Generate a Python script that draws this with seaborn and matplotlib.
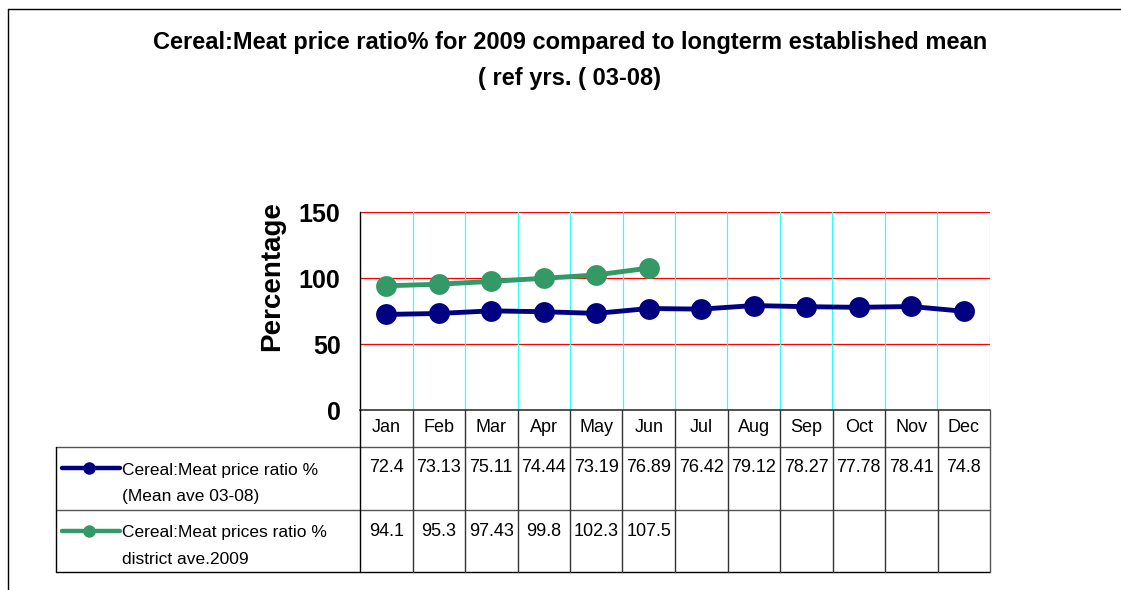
import numpy as np
import pandas as pd
import matplotlib
matplotlib.use("Agg")
import matplotlib.pyplot as plt
from matplotlib.lines import Line2D
import seaborn as sns

months = ['Jan', 'Feb', 'Mar', 'Apr', 'May', 'Jun', 'Jul', 'Aug', 'Sep', 'Oct', 'Nov', 'Dec']
mean_ratio = [72.4, 73.13, 75.11, 74.44, 73.19, 76.89, 76.42, 79.12, 78.27, 77.78, 78.41, 74.8]
district_ratio = [94.1, 95.3, 97.43, 99.8, 102.3, 107.5]
mean_label = ['Cereal:Meat price ratio %', '(Mean ave 03-08)']
district_label = ['Cereal:Meat prices ratio %', 'district ave.2009']
series_colors = {'mean': '#000080', 'district': '#339966'}

W, H = 1121, 590

sns.set_style("white")
plt.rcParams['font.family'] = ['Liberation Sans', 'DejaVu Sans']
plt.rcParams['text.color'] = 'black'
plt.rcParams['axes.labelcolor'] = 'black'
plt.rcParams['ytick.labelcolor'] = 'black'

df = pd.concat([
    pd.DataFrame({'pos': range(len(mean_ratio)), 'value': mean_ratio, 'series': 'mean'}),
    pd.DataFrame({'pos': range(len(district_ratio)), 'value': district_ratio, 'series': 'district'}),
])


def fx(x):
    return x / W


def fy(y):
    return 1 - y / H


fig = plt.figure(figsize=(W / 100, H / 100), dpi=100)
fig.patch.set_facecolor('white')

# plot area in pixel coordinates
px0, px1, py0, py1 = 360, 990, 212, 410
ax = fig.add_axes([fx(px0), fy(py1), fx(px1) - fx(px0), fy(py0) - fy(py1)])

sns.lineplot(data=df, x='pos', y='value', hue='series', palette=series_colors,
             marker='o', markersize=15, markeredgewidth=0, linewidth=3.5,
             legend=False, ax=ax, zorder=3)

ax.set_xlim(-0.5, len(months) - 0.5)
ax.set_ylim(0, 150)
ax.set_yticks([0, 50, 100, 150])
ax.set_yticklabels(['0', '50', '100', '150'], fontsize=18, fontweight='bold', color='black')
ax.set_xticks([])
ax.set_xlabel('')
ax.set_ylabel('')
ax.tick_params(axis='y', direction='out', length=8, width=1, color='#555555', pad=6)

for v in [50, 100, 150]:
    ax.axhline(v, color='red', linewidth=0.9, zorder=1)
for i in range(len(months)):
    ax.axvline(i + 0.5, color='#33ffff', linewidth=0.9, zorder=1)

for s in ['top', 'right']:
    ax.spines[s].set_visible(False)
ax.spines['left'].set_color('black')
ax.spines['bottom'].set_color('#333333')
ax.spines['left'].set_linewidth(1)
ax.spines['bottom'].set_linewidth(1.2)

# y label sits higher than the axes centre in the original
fig.text(fx(272), fy(276), 'Percentage', rotation=90, ha='center', va='center',
         fontsize=20, fontweight='bold')

# title
fig.text(fx(570), fy(43), 'Cereal:Meat price ratio% for 2009 compared to longterm established mean',
         ha='center', va='center', fontsize=17, fontweight='bold')
fig.text(fx(570), fy(78), '( ref yrs. ( 03-08)', ha='center', va='center',
         fontsize=17, fontweight='bold')


def hline(x0, x1, y, color='black', lw=1.0):
    fig.add_artist(Line2D([fx(x0), fx(x1)], [fy(y), fy(y)], color=color, linewidth=lw))


def vline(x, y0, y1, color='black', lw=1.0):
    fig.add_artist(Line2D([fx(x), fx(x)], [fy(y0), fy(y1)], color=color, linewidth=lw))


# outer frame
hline(8, W, 9)
vline(8, 9, H)

# data table
col_w = (px1 - px0) / len(months)
tab_left = 56
r_head, r1, r2, r_end = 410, 447, 510, 572
hline(tab_left, px1, r1, color='#555555')
hline(tab_left, px1, r2, color='#555555')
hline(tab_left, px1, r_end)
vline(tab_left, r1, r_end)
vline(px0, r_head, r_end)
vline(px1, r_head, r_end, color='#555555')
for i in range(1, len(months)):
    vline(px0 + i * col_w, r_head, r_end, color='#333333')

for i, m in enumerate(months):
    cx = px0 + (i + 0.5) * col_w
    fig.text(fx(cx), fy(428), m, ha='center', va='center', fontsize=13)
    fig.text(fx(cx), fy(467), f'{mean_ratio[i]:g}', ha='center', va='center', fontsize=13)
    if i < len(district_ratio):
        fig.text(fx(cx), fy(531), f'{district_ratio[i]:g}', ha='center', va='center', fontsize=13)

# legend keys in the table
for (key, lines, yk) in [('mean', mean_label, 468), ('district', district_label, 531)]:
    c = series_colors[key]
    fig.add_artist(Line2D([fx(62), fx(120)], [fy(yk), fy(yk)], color=c, linewidth=3.2))
    fig.add_artist(Line2D([fx(89)], [fy(yk)], color=c, marker='o', markersize=9,
                          markeredgewidth=0))
    fig.text(fx(122), fy(yk + 2), lines[0], ha='left', va='center', fontsize=12.5)
    fig.text(fx(122), fy(yk + 28), lines[1], ha='left', va='center', fontsize=12.5)

fig.savefig('out.png', dpi=100)
